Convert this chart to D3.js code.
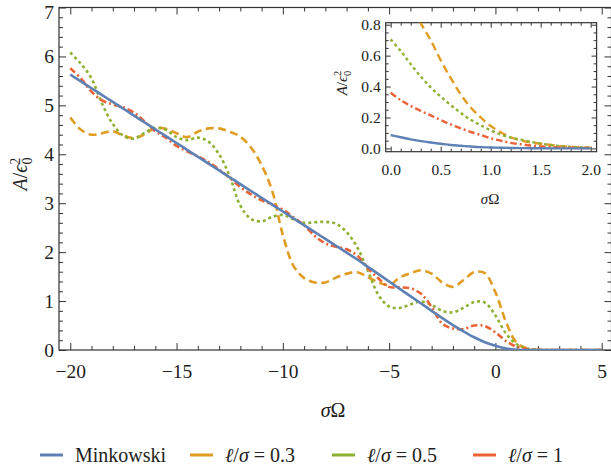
<!DOCTYPE html>
<html>
<head>
<meta charset="utf-8">
<script src="https://cdn.jsdelivr.net/npm/d3@7"></script>
<style>
  body { margin: 0; background: #fff; }
</style>
</head>
<body>
<svg id="chart" width="611" height="469"></svg>
<script>
// main panel: sigma*Omega from -20 to 5, step 0.5
const xMain = [-20,-19.5,-19,-18.5,-18,-17.5,-17,-16.5,-16,-15.5,
  -15,-14.5,-14,-13.5,-13,-12.5,-12,-11.5,-11,-10.5,
  -10,-9.5,-9,-8.5,-8,-7.5,-7,-6.5,-6,-5.5,
  -5,-4.5,-4,-3.5,-3,-2.5,-2,-1.5,-1,-0.5,
  0,0.5,1,1.5,2,2.5,3,3.5,4,4.5,5];
const minkowski = [5.63,5.49,5.35,5.21,5.07,4.93,4.79,4.65,4.51,4.37,
  4.23,4.09,3.95,3.81,3.67,3.53,3.39,3.25,3.11,2.97,
  2.83,2.69,2.55,2.41,2.27,2.13,1.99,1.85,1.70,1.55,
  1.40,1.25,1.10,0.95,0.80,0.65,0.51,0.38,0.26,0.16,
  0.086,0.030,0.006,0.001,0,0,0,0,0,0,0];
const l03 = [4.75,4.50,4.40,4.43,4.47,4.38,4.33,4.41,4.54,4.52,
  4.43,4.35,4.46,4.53,4.53,4.46,4.36,4.14,3.78,3.25,
  2.35,1.72,1.47,1.38,1.38,1.48,1.56,1.59,1.49,1.38,
  1.33,1.48,1.57,1.63,1.56,1.38,1.29,1.43,1.59,1.57,
  1.18,0.57,0.145,0.030,0.004,0,0,0,0,0,0];
const l05 = [6.08,5.85,5.55,5.03,4.62,4.38,4.32,4.44,4.54,4.50,
  4.35,4.29,4.34,4.26,4.00,3.55,2.95,2.68,2.63,2.72,
  2.76,2.67,2.60,2.61,2.62,2.58,2.41,2.10,1.62,1.12,
  0.89,0.86,0.93,0.99,0.92,0.80,0.77,0.86,0.98,0.97,
  0.705,0.335,0.117,0.031,0.005,0,0,0,0,0,0];
const l1 = [5.76,5.55,5.28,5.10,5.02,4.96,4.85,4.67,4.47,4.34,
  4.17,4.06,3.96,3.84,3.69,3.52,3.33,3.18,3.06,2.97,
  2.87,2.71,2.55,2.33,2.18,2.11,2.06,1.93,1.67,1.46,
  1.29,1.28,1.26,1.15,0.88,0.54,0.44,0.43,0.50,0.49,
  0.36,0.183,0.066,0.013,0.002,0,0,0,0,0,0];

// inset: sigma*Omega from 0 to 2, step 0.1
const xInset = [0,0.1,0.2,0.3,0.4,0.5,0.6,0.7,0.8,0.9,1.0,1.1,1.2,1.3,1.4,1.5,1.6,1.7,1.8,1.9,2.0];
const insetMink = [0.086,0.072,0.058,0.047,0.038,0.030,0.022,0.017,0.012,0.008,0.006,0.004,0.003,0.002,0.001,0.001,0,0,0,0,0];
const insetL03 = [1.18,1.05,0.93,0.81,0.70,0.57,0.455,0.35,0.265,0.20,0.145,0.105,0.072,0.052,0.039,0.030,0.022,0.014,0.009,0.006,0.004];
const insetL05 = [0.705,0.63,0.545,0.465,0.395,0.335,0.28,0.23,0.185,0.15,0.117,0.09,0.07,0.057,0.043,0.031,0.022,0.015,0.010,0.007,0.005];
const insetL1 = [0.36,0.312,0.275,0.243,0.213,0.183,0.155,0.13,0.106,0.087,0.066,0.05,0.036,0.027,0.019,0.013,0.009,0.006,0.004,0.003,0.002];

const seriesNames = ["Minkowski", "ℓ/σ = 0.3", "ℓ/σ = 0.5", "ℓ/σ = 1"];
const colors = ["#5e81b5", "#e19c24", "#8fb032", "#eb6235"];
const dashes = [null, "8,4.5", "3,3", "6.5,3,2,3"];

const xTicksMain = [-20, -15, -10, -5, 0, 5];
const yTicksMain = [0, 1, 2, 3, 4, 5, 6, 7];
const xTicksInset = [0, 0.5, 1, 1.5, 2];
const yTicksInset = [0, 0.2, 0.4, 0.6, 0.8];

// pick the first serif face that is actually installed
function pickSerif() {
  const ctx = document.createElement("canvas").getContext("2d");
  const probe = "Minkowski 0123456789";
  ctx.font = "40px NoSuchFontXyz, monospace";
  const wMono = ctx.measureText(probe).width;
  ctx.font = "40px NoSuchFontXyz, sans-serif";
  const wSans = ctx.measureText(probe).width;
  const cands = ["Liberation Serif", "DejaVu Serif", "Times New Roman", "Tinos", "Noto Serif", "FreeSerif", "Times"];
  for (const c of cands) {
    ctx.font = `40px "${c}", monospace`;
    const a = ctx.measureText(probe).width;
    ctx.font = `40px "${c}", sans-serif`;
    const b = ctx.measureText(probe).width;
    if (a !== wMono || b !== wSans) return `"${c}", serif`;
  }
  return "serif";
}
const FONT = pickSerif();
const svg = d3.select("#chart").attr("font-family", FONT).style("font-family", FONT);
const frameColor = "#333";

function panel(box, xd, yd, opt) {
  const x = d3.scaleLinear().domain(xd).range([box.l, box.r]);
  const y = d3.scaleLinear().domain(yd).range([box.b, box.t]);
  const g = svg.append("g");
  if (opt.bg) {
    g.append("rect").attr("x", box.l).attr("y", box.t)
      .attr("width", box.r - box.l).attr("height", box.b - box.t).attr("fill", "#fff");
  }
  const clipId = "clip" + Math.round(box.l);
  g.append("clipPath").attr("id", clipId).append("rect")
    .attr("x", box.l).attr("y", box.t).attr("width", box.r - box.l).attr("height", box.b - box.t);

  // ticks on all four sides, pointing inward
  const addAxis = (axisFn, scale, tr, vals, size, fmt) => {
    const a = axisFn(scale).tickValues(vals).tickSizeInner(-size).tickSizeOuter(0)
      .tickPadding(fmt ? opt.pad : 0).tickFormat(fmt || (() => ""));
    const ag = g.append("g").attr("transform", tr).call(a);
    ag.attr("font-family", null).attr("font-size", opt.fs);
    ag.select(".domain").remove();
    ag.selectAll("line").attr("stroke", frameColor).attr("stroke-width", 1);
    ag.selectAll("text").attr("fill", "#222").style("font-family", FONT);
    return ag;
  };
  const xMinor = opt.xMinor.filter(v => !opt.xMajor.includes(v));
  const yMinor = opt.yMinor.filter(v => !opt.yMajor.includes(v));
  const bx = addAxis(d3.axisBottom, x, `translate(0,${box.b})`, opt.xMajor, opt.major, opt.xFmt);
  bx.selectAll("text").attr("dy", "0").attr("y", opt.xLabY);
  addAxis(d3.axisBottom, x, `translate(0,${box.b})`, xMinor, opt.minor);
  addAxis(d3.axisTop, x, `translate(0,${box.t})`, opt.xMajor, opt.major);
  addAxis(d3.axisTop, x, `translate(0,${box.t})`, xMinor, opt.minor);
  const ly = addAxis(d3.axisLeft, y, `translate(${box.l},0)`, opt.yMajor, opt.major, opt.yFmt);
  if (opt.topShift) {
    ly.selectAll(".tick").filter(d => d === opt.yMajor[opt.yMajor.length - 1])
      .select("text").attr("y", opt.topShift);
  }
  addAxis(d3.axisLeft, y, `translate(${box.l},0)`, yMinor, opt.minor);
  addAxis(d3.axisRight, y, `translate(${box.r},0)`, opt.yMajor, opt.major);
  addAxis(d3.axisRight, y, `translate(${box.r},0)`, yMinor, opt.minor);

  g.append("rect").attr("x", box.l).attr("y", box.t)
    .attr("width", box.r - box.l).attr("height", box.b - box.t)
    .attr("fill", "none").attr("stroke", frameColor).attr("stroke-width", 1.2);

  const line = d3.line().x(d => x(d[0])).y(d => y(d[1])).curve(d3.curveCatmullRom.alpha(0.5));
  const lg = g.append("g").attr("clip-path", `url(#${clipId})`);
  // draw Minkowski last so it sits on top
  [1, 2, 3, 0].forEach(i => {
    const pts = opt.xs.map((v, k) => [v, opt.ys[i][k]]);
    lg.append("path").attr("d", line(pts)).attr("fill", "none")
      .attr("stroke", colors[i]).attr("stroke-width", opt.lw)
      .attr("stroke-dasharray", dashes[i]);
  });
  return { x, y, g };
}

function ampLabel(g, cx, cy, fs) {
  const t = g.append("text").attr("transform", `translate(${cx},${cy}) rotate(-90)`)
    .attr("text-anchor", "middle").attr("font-size", fs).attr("fill", "#222").style("font-family", FONT);
  t.append("tspan").attr("font-style", "italic").text("A");
  t.append("tspan").text("/");
  t.append("tspan").attr("font-style", "italic").text("ϵ");
  t.append("tspan").attr("font-size", fs * 0.7).attr("dy", fs * 0.25).text("0");
  t.append("tspan").attr("font-size", fs * 0.7).attr("dx", -fs * 0.36).attr("dy", -fs * 0.62).text("2");
}

function sigmaOmega(g, cx, cy, fs) {
  const t = g.append("text").attr("x", cx).attr("y", cy).attr("text-anchor", "middle")
    .attr("font-size", fs).attr("fill", "#222").style("font-family", FONT);
  t.append("tspan").attr("font-style", "italic").text("σ");
  t.append("tspan").text("Ω");
}

// main panel
const mainBox = { l: 59, r: 611.5, t: 7.5, b: 350 };
const main = panel(mainBox, [-20.53, 5.46], [0, 7], {
  xs: xMain, ys: [minkowski, l03, l05, l1],
  xMajor: xTicksMain, xMinor: d3.range(-20, 5.5, 1),
  yMajor: yTicksMain, yMinor: d3.range(0, 7.01, 0.2).map(v => +v.toFixed(1)),
  major: 7, minor: 4, fs: 19.5, pad: 5, xLabY: 28, topShift: 5,
  xFmt: d3.format("d"), yFmt: d3.format("d"), lw: 2.6
});
ampLabel(main.g, 27, 174, 20);
sigmaOmega(main.g, 333, 417, 20);

// inset panel
const insetBox = { l: 385.7, r: 596.6, t: 22.7, b: 151.7 };
const inset = panel(insetBox, [-0.05, 2.059], [-0.0214, 0.813], {
  xs: xInset, ys: [insetMink, insetL03, insetL05, insetL1],
  xMajor: xTicksInset, xMinor: d3.range(0, 2.01, 0.1).map(v => +v.toFixed(1)),
  yMajor: yTicksInset, yMinor: d3.range(0, 0.81, 0.05).map(v => +v.toFixed(2)),
  major: 5, minor: 3, fs: 15.5, pad: 5, xLabY: 23,
  xFmt: d3.format(".1f"), yFmt: d3.format(".1f"), lw: 2.4, bg: true
});
ampLabel(inset.g, 347, 83, 15);
sigmaOmega(inset.g, 490, 204, 15);

// legend
const legendX = [40, 190, 332, 473];
const leg = svg.append("g").attr("transform", "translate(0,455)");
seriesNames.forEach((name, i) => {
  leg.append("line").attr("x1", legendX[i]).attr("x2", legendX[i] + 23)
    .attr("y1", 0).attr("y2", 0).attr("stroke", colors[i]).attr("stroke-width", 3);
  const t = leg.append("text").attr("x", legendX[i] + 35).attr("y", 6.5)
    .attr("font-size", 20).attr("fill", "#222").style("font-family", FONT);
  if (i === 0) {
    t.text(name);
  } else {
    const val = name.split("= ")[1];
    t.append("tspan").attr("font-style", "italic").text("ℓ");
    t.append("tspan").text("/");
    t.append("tspan").attr("font-style", "italic").text("σ");
    t.append("tspan").text(" = " + val);
  }
});
</script>
</body>
</html>
